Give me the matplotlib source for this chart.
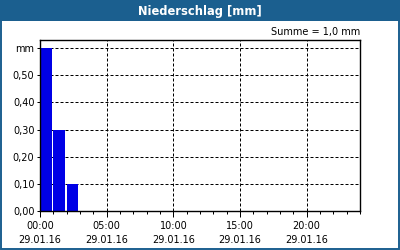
import matplotlib
matplotlib.use('Agg')
import matplotlib.pyplot as plt
from matplotlib.patches import Rectangle

# Niederschlag pro Stunde, 29.01.16
hours = [0, 1, 2]
rain_mm = [0.6, 0.3, 0.1]
y_ticks = [0.0, 0.1, 0.2, 0.3, 0.4, 0.5, 0.6]
y_labels = ['0,00', '0,10', '0,20', '0,30', '0,40', '0,50', 'mm']
x_ticks = [0, 5, 10, 15, 20]
x_labels = ['00:00\n29.01.16', '05:00\n29.01.16', '10:00\n29.01.16',
            '15:00\n29.01.16', '20:00\n29.01.16']
title = 'Niederschlag [mm]'
summe = 'Summe = 1,0 mm'

header = '#1b5f8f'
px = 0.72

fig = plt.figure(figsize=(4, 2.5), dpi=100)
fig.patch.set_facecolor('white')

# Rahmen und Kopfzeile
fig.patches.append(Rectangle((0, 1 - 21 / 250), 1, 21 / 250, transform=fig.transFigure,
                             facecolor=header, edgecolor='none', zorder=0))
fig.patches.append(Rectangle((1 / 400, 1 / 250), 398 / 400, 248 / 250, transform=fig.transFigure,
                             facecolor='none', edgecolor=header, linewidth=1.4, zorder=1))
fig.text(0.5, 1 - 11 / 250, title, color='white', fontsize=8.3, fontweight='bold',
         ha='center', va='center')
fig.text(360 / 400, 1 - 32 / 250, summe, fontsize=7, ha='right', va='center')

ax = fig.add_axes([40 / 400, 1 - 211 / 250, 320 / 400, 171 / 250])
ax.bar(hours, rain_mm, width=0.88, align='edge', color='#0000e6', zorder=3)

ax.set_xlim(0, 24)
ax.set_ylim(0, 0.63)
ax.set_yticks(y_ticks)
ax.set_yticklabels(y_labels)
ax.set_xticks(x_ticks)
ax.set_xticklabels(x_labels, linespacing=1.55)
ax.set_xticks(range(0, 25), minor=True)

ax.tick_params(axis='both', labelsize=7, width=px, colors='black')
ax.tick_params(axis='x', which='major', length=4, pad=3)
ax.tick_params(axis='x', which='minor', length=2, width=px)
ax.tick_params(axis='y', length=2, pad=2)

ax.grid(True, which='major', color='black', linestyle=(0, (3, 2)), linewidth=px, zorder=1)
for s in ax.spines.values():
    s.set_linewidth(1.0)
    s.set_zorder(4)

fig.savefig('out.png', dpi=100)
